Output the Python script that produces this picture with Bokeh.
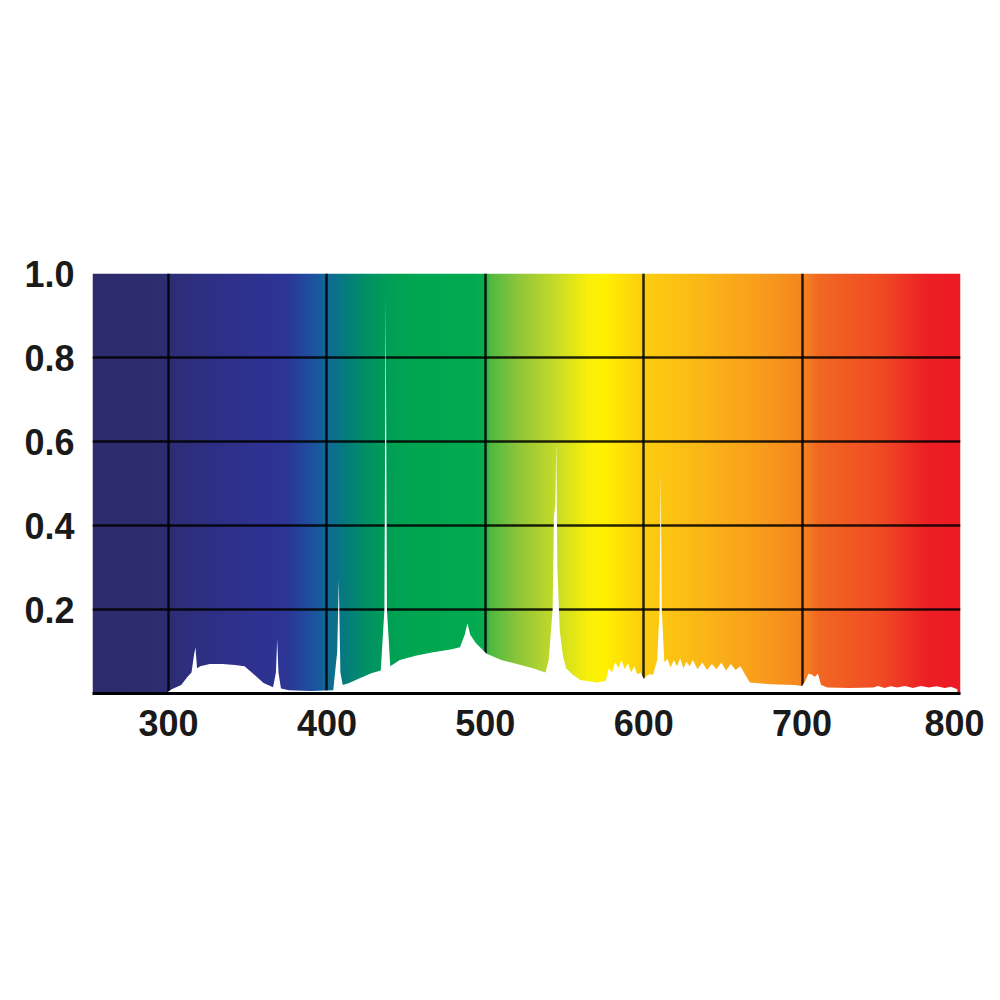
import numpy as np
from bokeh.plotting import figure
from bokeh.models import Range1d, FixedTicker
from bokeh.embed import file_html
from bokeh.resources import INLINE

# ---- data: relative spectral intensity (white area) ----
wavelength = [298, 302, 308, 312, 314.5, 316, 317, 318, 320, 326, 334, 342, 348, 354, 360,
              366, 367.8, 368.6, 369.4, 371, 376, 390, 404, 406.5, 407.5, 408.5, 410, 414,
              420, 428, 434, 436.3, 437.1, 437.9, 440, 446, 456, 467, 478, 484, 487, 488.7,
              490.5, 494, 500.6, 510, 520, 530, 538, 540, 542.5, 543.3, 544.2, 544.8, 545.5,
              547, 549, 551, 555, 560, 570, 576, 578, 580, 582, 584, 586, 588, 590, 592, 594,
              596, 598, 600, 603, 606, 608.5, 610, 610.7, 611.4, 613, 615, 617, 619, 621, 623,
              625, 627, 629, 631, 634, 637, 640, 643, 646, 649, 652, 655, 658, 661, 664, 667,
              680, 695, 700, 702, 704, 706, 708, 710, 712, 716, 730, 745, 748, 752, 756, 760,
              765, 770, 775, 780, 785, 790, 794, 798]
intensity = [0.0, 0.01, 0.02, 0.04, 0.05, 0.09, 0.11, 0.06, 0.065, 0.07, 0.07, 0.068, 0.065, 0.045, 0.025,
             0.015, 0.05, 0.13, 0.05, 0.012, 0.008, 0.006, 0.008, 0.1, 0.27, 0.05, 0.02, 0.025,
             0.035, 0.048, 0.055, 0.2, 0.94, 0.2, 0.065, 0.08, 0.09, 0.098, 0.105, 0.11, 0.14, 0.167,
             0.14, 0.12, 0.095, 0.08, 0.07, 0.06, 0.05, 0.08, 0.2, 0.42, 0.45, 0.6, 0.3,
             0.15, 0.09, 0.06, 0.045, 0.032, 0.026, 0.03, 0.06, 0.05, 0.075, 0.06, 0.08, 0.058, 0.072, 0.05, 0.065,
             0.045, 0.05, 0.035, 0.045, 0.045, 0.08, 0.2, 0.53, 0.2, 0.075, 0.082, 0.062, 0.08, 0.065, 0.084,
             0.06, 0.075, 0.065, 0.08, 0.058, 0.074, 0.056, 0.07, 0.058, 0.074, 0.055, 0.07, 0.056, 0.065, 0.045, 0.026,
             0.022, 0.02, 0.018, 0.03, 0.047, 0.045, 0.04, 0.047, 0.02, 0.014, 0.013, 0.014, 0.018, 0.013, 0.017, 0.014,
             0.018, 0.013, 0.018, 0.014, 0.017, 0.013, 0.016, 0.01]

x_ticks = [300, 400, 500, 600, 700, 800]
y_ticks = [0.2, 0.4, 0.6, 0.8, 1.0]
y_tick_labels = {0.2: "0.2", 0.4: "0.4", 0.6: "0.6", 0.8: "0.8", 1.0: "1.0"}

# ---- background visible-spectrum gradient stops (style) ----
grad_nm = [252, 290, 330, 360, 375, 390, 400, 412, 425, 440, 455, 490, 499, 503, 520, 545, 565,
           575, 600, 630, 670, 700, 710, 750, 780, 800]
grad_rgb = [(44, 44, 108), (45, 45, 112), (46, 48, 135), (46, 50, 145), (45, 55, 150),
            (30, 80, 160), (18, 105, 150), (5, 125, 125), (0, 145, 100), (0, 160, 85),
            (0, 166, 81), (0, 170, 80), (10, 172, 78), (80, 185, 65), (140, 198, 60), (200, 220, 40),
            (250, 240, 10), (255, 242, 0), (253, 205, 15), (252, 188, 22), (249, 160, 28),
            (245, 135, 32), (242, 105, 34), (240, 75, 36), (237, 30, 36), (237, 28, 36)]

X0, X1 = 252, 800

p = figure(frame_width=868, frame_height=420, min_border_left=92, min_border_right=24,
           min_border_top=273, min_border_bottom=120,
           x_range=Range1d(X0, X1), y_range=Range1d(0, 1.0),
           output_backend="svg", toolbar_location=None, tools="")
p.outline_line_color = None
p.background_fill_color = "white"

# gradient image
N = 1096
cols = np.linspace(X0, X1, N)
img = np.zeros((1, N), dtype=np.uint32)
view = img.view(dtype=np.uint8).reshape((1, N, 4))
for ch in range(3):
    view[0, :, ch] = np.interp(cols, grad_nm, [c[ch] for c in grad_rgb]).astype(np.uint8)
view[0, :, 3] = 255
p.image_rgba(image=[img], x=X0, y=0, dw=X1 - X0, dh=1.0, level="image")

# spectrum
p.varea(x=wavelength, y1=0, y2=intensity, fill_color="white", fill_alpha=1.0)

# grids
p.xgrid.ticker = FixedTicker(ticks=[300, 400, 500, 600, 700])
p.ygrid.ticker = FixedTicker(ticks=[0.2, 0.4, 0.6, 0.8])
for g in (p.xgrid, p.ygrid):
    g.grid_line_color = "black"
    g.grid_line_width = 2.5
    g.grid_line_alpha = 0.85

# axes
font = "Liberation Sans"
p.xaxis.ticker = FixedTicker(ticks=x_ticks)
p.yaxis.ticker = FixedTicker(ticks=y_ticks)
p.yaxis.major_label_overrides = y_tick_labels
for ax in (p.xaxis, p.yaxis):
    ax.major_tick_line_color = None
    ax.minor_tick_line_color = None
    ax.major_label_text_font = font
    ax.major_label_text_font_style = "bold"
    ax.major_label_text_font_size = "36px"
    ax.major_label_text_color = "#1a1a1a"
p.xaxis.axis_line_color = "black"
p.xaxis.axis_line_width = 3
p.xaxis.major_label_standoff = 10
p.yaxis.axis_line_color = None
p.yaxis.major_label_standoff = 12

open("out.html", "w").write(file_html(p, INLINE))
